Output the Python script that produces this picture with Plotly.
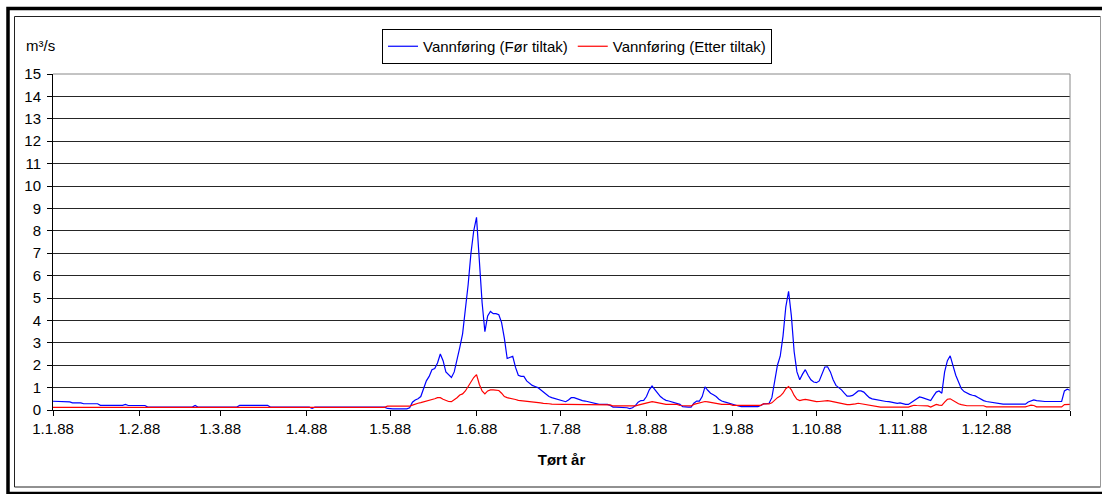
import pandas as pd
import plotly.graph_objects as go

# Daily discharge (m³/s), one list per month, 1988
blue_jan = [0.39, 0.39, 0.39, 0.39, 0.36, 0.36, 0.36, 0.32, 0.32, 0.32, 0.32, 0.28, 0.28, 0.28, 0.28, 0.28,
            0.28, 0.21, 0.21, 0.21, 0.21, 0.21, 0.21, 0.21, 0.21, 0.21, 0.25, 0.20, 0.20, 0.20, 0.20]
blue_feb = [0.20, 0.20, 0.20, 0.13, 0.13, 0.13, 0.13, 0.13, 0.13, 0.13, 0.13, 0.13, 0.13, 0.13, 0.13, 0.13,
            0.13, 0.13, 0.13, 0.13, 0.20, 0.13, 0.13, 0.13, 0.13, 0.13, 0.13, 0.13, 0.13]
blue_mar = [0.13, 0.13, 0.13, 0.13, 0.13, 0.13, 0.13, 0.21, 0.21, 0.21, 0.21, 0.21, 0.21, 0.21, 0.21, 0.21,
            0.21, 0.21, 0.13, 0.13, 0.13, 0.13, 0.13, 0.13, 0.13, 0.13, 0.13, 0.13, 0.13, 0.13, 0.13]
blue_apr = [0.13, 0.13, 0.07, 0.13, 0.13, 0.13, 0.13, 0.13, 0.13, 0.13, 0.13, 0.13, 0.13, 0.13, 0.13, 0.13,
            0.13, 0.13, 0.13, 0.13, 0.13, 0.13, 0.13, 0.13, 0.13, 0.13, 0.13, 0.13, 0.13, 0.07]
blue_may = [0.05, 0.05, 0.05, 0.05, 0.05, 0.05, 0.05, 0.10, 0.35, 0.45, 0.50, 0.60, 1.00, 1.30, 1.50, 1.80,
            1.85, 2.10, 2.50, 2.20, 1.70, 1.55, 1.45, 1.70, 2.20, 2.80, 3.40, 4.40, 5.60, 7.00, 8.00]
blue_jun = [8.60, 6.80, 4.80, 3.50, 4.20, 4.40, 4.30, 4.30, 4.25, 3.90, 3.20, 2.30, 2.35, 2.40, 1.90, 1.55,
            1.50, 1.50, 1.30, 1.20, 1.10, 1.05, 1.00, 0.90, 0.80, 0.68, 0.60, 0.55, 0.52, 0.47]
blue_jul = [0.43, 0.40, 0.37, 0.45, 0.55, 0.55, 0.50, 0.47, 0.42, 0.40, 0.37, 0.35, 0.30, 0.27, 0.25, 0.25,
            0.25, 0.25, 0.20, 0.13, 0.13, 0.13, 0.13, 0.13, 0.10, 0.06, 0.10, 0.20, 0.35, 0.42, 0.43]
blue_aug = [0.60, 0.90, 1.07, 0.90, 0.75, 0.60, 0.50, 0.43, 0.40, 0.37, 0.33, 0.30, 0.25, 0.15, 0.13, 0.13,
            0.13, 0.30, 0.40, 0.40, 0.60, 1.03, 0.88, 0.75, 0.68, 0.60, 0.48, 0.40, 0.36, 0.32, 0.27]
blue_sep = [0.25, 0.22, 0.18, 0.15, 0.15, 0.15, 0.15, 0.15, 0.15, 0.15, 0.20, 0.27, 0.28, 0.30, 0.55, 1.20,
            2.00, 2.40, 3.30, 4.60, 5.30, 4.20, 2.60, 1.70, 1.35, 1.60, 1.80, 1.55, 1.35, 1.25]
blue_oct = [1.22, 1.30, 1.60, 1.92, 1.93, 1.70, 1.35, 1.10, 1.00, 0.90, 0.75, 0.62, 0.62, 0.65, 0.75, 0.85,
            0.85, 0.80, 0.67, 0.55, 0.50, 0.47, 0.44, 0.42, 0.40, 0.38, 0.37, 0.35, 0.32, 0.30, 0.32]
blue_nov = [0.27, 0.25, 0.25, 0.33, 0.42, 0.52, 0.58, 0.55, 0.50, 0.45, 0.42, 0.62, 0.80, 0.85, 0.75, 1.70,
            2.20, 2.42, 2.00, 1.55, 1.25, 0.95, 0.82, 0.75, 0.70, 0.66, 0.63, 0.56, 0.48, 0.42]
blue_dec = [0.38, 0.36, 0.33, 0.30, 0.28, 0.26, 0.26, 0.26, 0.26, 0.26, 0.26, 0.26, 0.26, 0.26, 0.26, 0.36,
            0.42, 0.45, 0.42, 0.40, 0.38, 0.38, 0.38, 0.38, 0.38, 0.38, 0.38, 0.38, 0.85, 0.93, 0.88]

red_jan = [0.12, 0.12, 0.12, 0.12, 0.12, 0.12, 0.12, 0.12, 0.12, 0.12, 0.12, 0.12, 0.12, 0.12, 0.12, 0.12,
           0.12, 0.12, 0.12, 0.12, 0.12, 0.12, 0.12, 0.12, 0.12, 0.12, 0.12, 0.12, 0.12, 0.12, 0.12]
red_feb = [0.12, 0.12, 0.12, 0.12, 0.12, 0.12, 0.12, 0.12, 0.12, 0.12, 0.12, 0.12, 0.12, 0.12, 0.12, 0.12,
           0.12, 0.12, 0.12, 0.12, 0.12, 0.12, 0.12, 0.12, 0.12, 0.12, 0.12, 0.12, 0.12]
red_mar = [0.12, 0.12, 0.12, 0.12, 0.12, 0.12, 0.12, 0.12, 0.12, 0.12, 0.12, 0.12, 0.12, 0.12, 0.12, 0.12,
           0.12, 0.12, 0.12, 0.12, 0.12, 0.12, 0.12, 0.12, 0.12, 0.12, 0.12, 0.12, 0.12, 0.12, 0.12]
red_apr = [0.12, 0.12, 0.12, 0.12, 0.12, 0.12, 0.12, 0.12, 0.12, 0.12, 0.12, 0.12, 0.12, 0.12, 0.12, 0.12,
           0.12, 0.12, 0.12, 0.12, 0.12, 0.12, 0.12, 0.12, 0.12, 0.12, 0.12, 0.12, 0.12, 0.17]
red_may = [0.17, 0.17, 0.17, 0.17, 0.17, 0.17, 0.17, 0.17, 0.22, 0.27, 0.30, 0.33, 0.36, 0.40, 0.42, 0.45,
           0.50, 0.55, 0.55, 0.48, 0.42, 0.38, 0.37, 0.45, 0.55, 0.67, 0.72, 0.85, 1.05, 1.30, 1.45]
red_jun = [1.58, 1.15, 0.85, 0.72, 0.85, 0.90, 0.90, 0.90, 0.87, 0.75, 0.60, 0.55, 0.53, 0.52, 0.47, 0.43,
           0.42, 0.40, 0.38, 0.37, 0.36, 0.35, 0.34, 0.32, 0.30, 0.30, 0.28, 0.26, 0.25, 0.25]
red_jul = [0.25, 0.25, 0.25, 0.25, 0.25, 0.25, 0.25, 0.25, 0.25, 0.23, 0.23, 0.23, 0.23, 0.23, 0.23, 0.23,
           0.23, 0.23, 0.23, 0.18, 0.18, 0.18, 0.18, 0.18, 0.18, 0.18, 0.18, 0.18, 0.22, 0.25, 0.27]
red_aug = [0.30, 0.35, 0.37, 0.35, 0.32, 0.30, 0.27, 0.25, 0.25, 0.25, 0.25, 0.25, 0.20, 0.20, 0.20, 0.20,
           0.18, 0.25, 0.28, 0.30, 0.33, 0.38, 0.36, 0.33, 0.30, 0.28, 0.27, 0.25, 0.25, 0.25, 0.25]
red_sep = [0.21, 0.21, 0.21, 0.21, 0.21, 0.21, 0.21, 0.21, 0.21, 0.21, 0.21, 0.27, 0.27, 0.27, 0.32, 0.45,
           0.55, 0.62, 0.75, 0.95, 1.05, 0.90, 0.65, 0.48, 0.42, 0.45, 0.47, 0.45, 0.42, 0.38]
red_oct = [0.37, 0.38, 0.40, 0.42, 0.42, 0.40, 0.37, 0.33, 0.30, 0.27, 0.25, 0.24, 0.24, 0.24, 0.27, 0.30,
           0.28, 0.25, 0.22, 0.22, 0.20, 0.18, 0.13, 0.13, 0.13, 0.13, 0.13, 0.13, 0.13, 0.13, 0.13]
red_nov = [0.13, 0.13, 0.13, 0.17, 0.21, 0.20, 0.20, 0.20, 0.20, 0.18, 0.13, 0.20, 0.25, 0.22, 0.21, 0.35,
           0.48, 0.50, 0.42, 0.35, 0.28, 0.24, 0.21, 0.19, 0.19, 0.19, 0.19, 0.19, 0.19, 0.19]
red_dec = [0.14, 0.14, 0.14, 0.14, 0.14, 0.14, 0.14, 0.14, 0.14, 0.14, 0.14, 0.14, 0.14, 0.14, 0.14, 0.18,
           0.22, 0.20, 0.14, 0.14, 0.14, 0.14, 0.14, 0.14, 0.14, 0.14, 0.14, 0.14, 0.24, 0.25, 0.25]

month_starts = ["1988-01-01", "1988-02-01", "1988-03-01", "1988-04-01", "1988-05-01", "1988-06-01",
                "1988-07-01", "1988-08-01", "1988-09-01", "1988-10-01", "1988-11-01", "1988-12-01",
                "1988-12-31"]
month_labels = ["1.1.88", "1.2.88", "1.3.88", "1.4.88", "1.5.88", "1.6.88",
                "1.7.88", "1.8.88", "1.9.88", "1.10.88", "1.11.88", "1.12.88", ""]
y_ticks = list(range(0, 16))

before = (blue_jan + blue_feb + blue_mar + blue_apr + blue_may + blue_jun
          + blue_jul + blue_aug + blue_sep + blue_oct + blue_nov + blue_dec)
after = (red_jan + red_feb + red_mar + red_apr + red_may + red_jun
         + red_jul + red_aug + red_sep + red_oct + red_nov + red_dec)
days = pd.date_range("1988-01-01", "1988-12-31", freq="D")

FONT = "Liberation Sans, Arial, sans-serif"
FS = 15

fig = go.Figure()
fig.add_trace(go.Scatter(x=days, y=before, mode="lines", name="Vannføring (Før tiltak)",
                         line=dict(color="#0000FF", width=1.2)))
fig.add_trace(go.Scatter(x=days, y=after, mode="lines", name="Vannføring (Etter tiltak)",
                         line=dict(color="#FF0000", width=1.2)))

W, H = 1102, 494
L, R, T, B = 53, 32, 74, 84
pw, ph = W - L - R, H - T - B


def px(xp):
    return (xp - L) / pw


def py(yp):
    return (H - B - yp) / ph


shapes = [
    # outer heavy frame
    dict(type="rect", xref="paper", yref="paper", x0=px(8), x1=px(1108), y0=py(493.5), y1=py(8.5),
         line=dict(color="black", width=3.5), layer="above"),
    # inner thin frame
    dict(type="line", xref="paper", yref="paper", x0=px(14.5), x1=px(1100.5), y0=py(16.5), y1=py(16.5),
         line=dict(color="#222222", width=1)),
    dict(type="line", xref="paper", yref="paper", x0=px(14.5), x1=px(14.5), y0=py(16.5), y1=py(487),
         line=dict(color="#222222", width=1)),
    dict(type="line", xref="paper", yref="paper", x0=px(14.5), x1=px(1100.5), y0=py(487), y1=py(487),
         line=dict(color="#222222", width=1)),
    dict(type="line", xref="paper", yref="paper", x0=px(1100.5), x1=px(1100.5), y0=py(16.5), y1=py(487),
         line=dict(color="#999999", width=1)),
    # plot-area border, top and right
    dict(type="line", xref="paper", yref="paper", x0=0, x1=1, y0=1, y1=1,
         line=dict(color="#888888", width=1), layer="above"),
    dict(type="line", xref="paper", yref="paper", x0=1, x1=1, y0=0, y1=1,
         line=dict(color="#888888", width=1), layer="above"),
]

fig.update_layout(
    width=W, height=H,
    margin=dict(l=L, r=R, t=T, b=B),
    paper_bgcolor="white", plot_bgcolor="white",
    font=dict(family=FONT, size=FS, color="black"),
    shapes=shapes,
    showlegend=True,
    legend=dict(orientation="h", x=px(382), y=py(29), xanchor="left", yanchor="top",
                bordercolor="black", borderwidth=1, bgcolor="white",
                font=dict(family=FONT, size=FS, color="black"),
                itemwidth=30, tracegroupgap=0),
    annotations=[dict(text="m³/s", xref="paper", yref="paper", x=px(24), y=py(45),
                      xanchor="left", yanchor="middle", showarrow=False,
                      font=dict(family=FONT, size=FS, color="black"))],
    xaxis=dict(
        range=["1988-01-01", "1988-12-31"],
        tickmode="array", tickvals=month_starts, ticktext=month_labels,
        ticks="outside", ticklen=5, tickcolor="black", tickwidth=1,
        showline=True, linecolor="black", linewidth=1,
        showgrid=False, zeroline=False,
        tickfont=dict(family=FONT, size=FS, color="black"),
        title=dict(text="<b>Tørt år</b>", font=dict(family=FONT, size=FS, color="black"), standoff=18),
    ),
    yaxis=dict(
        range=[0, 15],
        tickmode="array", tickvals=y_ticks,
        ticks="outside", ticklen=5, tickcolor="black", tickwidth=1,
        ticklabelstandoff=3,
        showline=True, linecolor="black", linewidth=1,
        showgrid=True, gridcolor="#262626", gridwidth=1, zeroline=False,
        tickfont=dict(family=FONT, size=FS, color="black"),
    ),
)

fig.write_html("out.html")
